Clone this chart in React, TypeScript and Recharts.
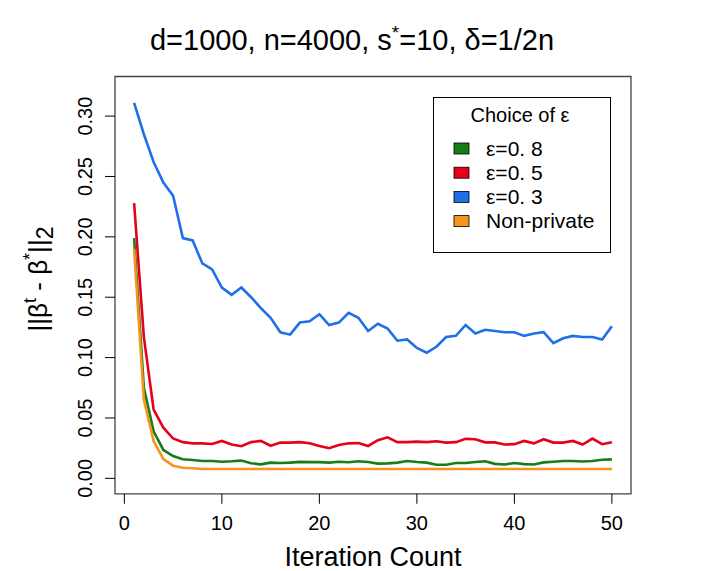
import React from "react";
import { LineChart, Line, XAxis, YAxis, ReferenceArea, Legend } from "recharts";

const iterations = [
  1, 2, 3, 4, 5, 6, 7, 8, 9, 10, 11, 12, 13, 14, 15, 16, 17, 18, 19, 20, 21, 22, 23, 24, 25,
  26, 27, 28, 29, 30, 31, 32, 33, 34, 35, 36, 37, 38, 39, 40, 41, 42, 43, 44, 45, 46, 47, 48, 49, 50,
];

const eps08 = [
  0.199, 0.075, 0.039, 0.0235, 0.0185, 0.0158, 0.0152, 0.0144, 0.0144, 0.0138,
  0.0141, 0.0147, 0.0125, 0.0116, 0.013, 0.0127, 0.013, 0.0136, 0.0134, 0.0134,
  0.013, 0.0138, 0.0133, 0.0141, 0.0135, 0.0122, 0.0124, 0.013, 0.0144, 0.0135,
  0.013, 0.0113, 0.0113, 0.0127, 0.0127, 0.0135, 0.0141, 0.012, 0.0115, 0.0127,
  0.0118, 0.0115, 0.0132, 0.0138, 0.0144, 0.0144, 0.014, 0.0144, 0.0154, 0.0157,
];

const eps05 = [
  0.228, 0.117, 0.057, 0.042, 0.033, 0.030, 0.029, 0.029, 0.0285, 0.031,
  0.028, 0.0266, 0.030, 0.031, 0.027, 0.0296, 0.0296, 0.030, 0.029, 0.0268,
  0.025, 0.0277, 0.029, 0.0293, 0.0268, 0.0316, 0.034, 0.030, 0.030, 0.0304,
  0.030, 0.0307, 0.0296, 0.030, 0.0327, 0.0324, 0.0298, 0.0298, 0.028, 0.0283,
  0.031, 0.029, 0.0324, 0.0296, 0.0296, 0.031, 0.028, 0.0329, 0.0283, 0.0299,
];

const eps03 = [
  0.311, 0.285, 0.262, 0.245, 0.234, 0.199, 0.197, 0.178, 0.173, 0.158,
  0.152, 0.158, 0.15, 0.141, 0.133, 0.121, 0.119, 0.129, 0.13, 0.136,
  0.127, 0.129, 0.137, 0.133, 0.122, 0.128, 0.124, 0.114, 0.115, 0.108,
  0.104, 0.109, 0.117, 0.118, 0.127, 0.12, 0.123, 0.122, 0.121, 0.121,
  0.118, 0.12, 0.121, 0.112, 0.116, 0.118, 0.117, 0.117, 0.115, 0.126,
];

const nonPrivate = [
  0.19, 0.065, 0.031, 0.016, 0.0105, 0.0088, 0.0083, 0.0078, 0.0077, 0.0077,
  0.0077, 0.0077, 0.0077, 0.0077, 0.0077, 0.0077, 0.0077, 0.0077, 0.0077, 0.0077,
  0.0077, 0.0077, 0.0077, 0.0077, 0.0077, 0.0077, 0.0077, 0.0077, 0.0077, 0.0077,
  0.0077, 0.0077, 0.0077, 0.0077, 0.0077, 0.0077, 0.0077, 0.0077, 0.0077, 0.0077,
  0.0077, 0.0077, 0.0077, 0.0077, 0.0077, 0.0077, 0.0077, 0.0077, 0.0077, 0.0077,
];

const xTicks = [0, 10, 20, 30, 40, 50];
const yTicks = [0, 0.05, 0.1, 0.15, 0.2, 0.25, 0.3];
const yTickLabels = ["0.00", "0.05", "0.10", "0.15", "0.20", "0.25", "0.30"];

const seriesNames = ["ε=0. 8", "ε=0. 5", "ε=0. 3", "Non-private"];
const seriesKeys = ["e08", "e05", "e03", "np"];
const seriesColors = ["#187d18", "#e6001a", "#1f70e8", "#f7941d"];

const X_DOMAIN: [number, number] = [-0.96, 51.96];
const Y_DOMAIN: [number, number] = [-0.0128, 0.3328];

const FONT = "'Liberation Sans', Arial, Helvetica, sans-serif";

const rows = iterations.map((it, i) => ({
  x: it,
  e08: eps08[i],
  e05: eps05[i],
  e03: eps03[i],
  np: nonPrivate[i],
}));

const YTick = (props: any) => {
  const { x, y, payload } = props;
  const idx = yTicks.indexOf(payload.value);
  const label = idx >= 0 ? yTickLabels[idx] : String(payload.value);
  return (
    <text
      x={x}
      y={y}
      transform={`rotate(-90 ${x} ${y})`}
      textAnchor="middle"
      fontSize={20}
      fontFamily={FONT}
      fill="#000"
    >
      {label}
    </text>
  );
};

const XTick = (props: any) => {
  const { x, y, payload } = props;
  return (
    <text x={x} y={y} dy="0.71em" textAnchor="middle" fontSize={20} fontFamily={FONT} fill="#000">
      {payload.value}
    </text>
  );
};

const LegendBox = () => {
  return (
    <svg width={179} height={157} style={{ display: "block", overflow: "visible" }}>
      <rect x={0.5} y={0.5} width={177} height={155} fill="#fff" stroke="#000" strokeWidth={1} />
      <text x={87} y={25} textAnchor="middle" fontSize={20} fontFamily={FONT} fill="#000">
        Choice of ε
      </text>
      {seriesNames.map((name, i) => (
        <g key={name}>
          <rect
            x={21}
            y={46 + i * 24.2}
            width={15}
            height={11}
            fill={seriesColors[i]}
            stroke="#000"
            strokeWidth={0.8}
          />
          <text x={53} y={58.5 + i * 24.2} fontSize={21} fontFamily={FONT} fill="#000">
            {name}
          </text>
        </g>
      ))}
    </svg>
  );
};

export default function App() {
  return (
    <div style={{ position: "absolute", left: 0, top: 0, width: 707, height: 571, background: "#fff" }}>
      <LineChart
        width={707}
        height={571}
        data={rows}
        margin={{ top: 76.5, right: 76, bottom: 27.2, left: 55 }}
      >
        <XAxis
          dataKey="x"
          type="number"
          domain={X_DOMAIN}
          allowDataOverflow
          ticks={xTicks}
          interval={0}
          height={50}
          tickSize={10}
          tickMargin={12}
          axisLine={false}
          tickLine={{ stroke: "#000", strokeWidth: 1 }}
          tick={<XTick />}
        />
        <YAxis
          type="number"
          domain={Y_DOMAIN}
          allowDataOverflow
          ticks={yTicks}
          interval={0}
          width={60}
          tickSize={10}
          tickMargin={13}
          axisLine={false}
          tickLine={{ stroke: "#000", strokeWidth: 1 }}
          tick={<YTick />}
        />
        <ReferenceArea
          x1={X_DOMAIN[0]}
          x2={X_DOMAIN[1]}
          y1={Y_DOMAIN[0]}
          y2={Y_DOMAIN[1]}
          fill="none"
          fillOpacity={0}
          stroke="#444"
          strokeWidth={1.3}
          ifOverflow="visible"
        />
        {seriesKeys.map((k, i) => (
          <Line
            key={k}
            type="linear"
            dataKey={k}
            name={seriesNames[i]}
            stroke={seriesColors[i]}
            strokeWidth={2.6}
            dot={false}
            activeDot={false}
            isAnimationActive={false}
          />
        ))}
        <Legend
          layout="vertical"
          align="center"
          verticalAlign="middle"
          wrapperStyle={{ left: 433, top: 97, width: 179, height: 157 }}
          content={() => <LegendBox />}
        />
      </LineChart>
      <svg
        width={707}
        height={571}
        style={{ position: "absolute", left: 0, top: 0, pointerEvents: "none" }}
      >
        <text x={352} y={50} textAnchor="middle" fontSize={29} fontFamily={FONT} fill="#000">
          d=1000, n=4000, s
          <tspan dy={-11} fontSize={19}>*</tspan>
          <tspan dy={11}>=10, δ=1/2n</tspan>
        </text>
        <text x={373} y={566} textAnchor="middle" fontSize={27} fontFamily={FONT} fill="#000">
          Iteration Count
        </text>
        <text
          x={47}
          y={279}
          transform="rotate(-90 47 279)"
          textAnchor="middle"
          fontSize={26}
          fontFamily={FONT}
          fill="#000"
        >
          ||β
          <tspan dy={-11} fontSize={18}>t</tspan>
          <tspan dy={11}> - β</tspan>
          <tspan dy={-11} fontSize={18}>*</tspan>
          <tspan dy={11}>||</tspan>
          <tspan dy={6} fontSize={23}>2</tspan>
        </text>
      </svg>
    </div>
  );
}
